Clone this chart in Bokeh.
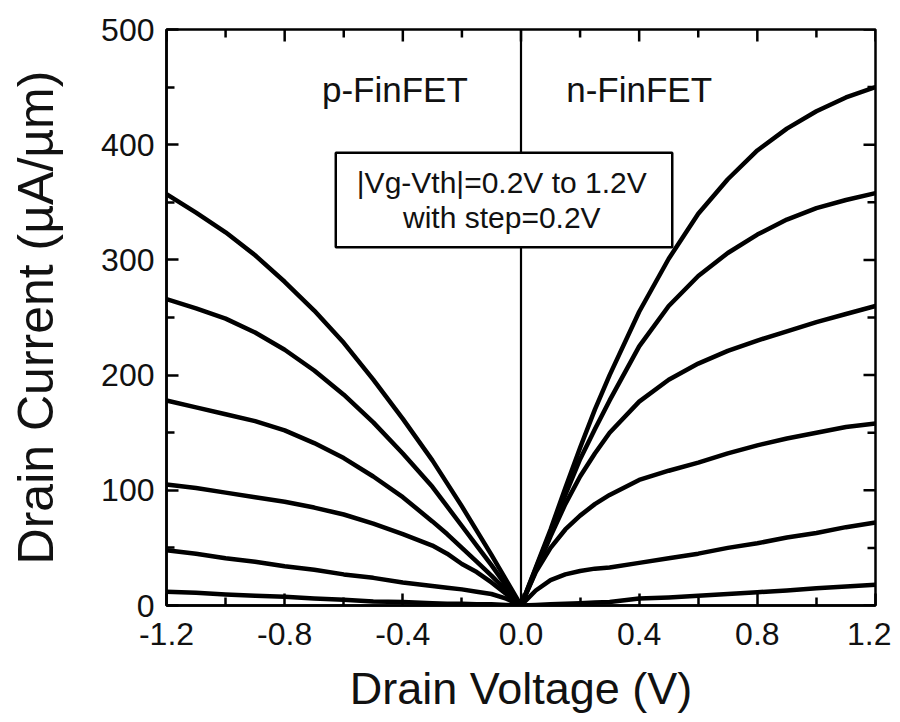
import math
from bokeh.plotting import figure
from bokeh.models import (Range1d, FixedTicker, NumeralTickFormatter,
                          Span, BoxAnnotation, Label)
from bokeh.embed import file_html
from bokeh.resources import INLINE

# Drain voltage samples (V)
vd_n = [0.0, 0.05, 0.1, 0.15, 0.2, 0.25, 0.3, 0.4, 0.5, 0.6, 0.7, 0.8, 0.9, 1.0, 1.1, 1.2]
vd_p = [0.0, -0.05, -0.1, -0.15, -0.2, -0.25, -0.3, -0.4, -0.5, -0.6, -0.7, -0.8, -0.9, -1.0, -1.1, -1.2]

# n-FinFET drain current (uA/um), |Vg-Vth| = 1.2, 1.0, 0.8, 0.6, 0.4, 0.2 V
n_12 = [0, 33, 66, 102, 137, 170, 200, 255, 301, 340, 370, 395, 414, 429, 441, 450]
n_10 = [0, 32, 64, 96, 127, 153, 178, 225, 260, 286, 306, 322, 335, 345, 352, 358]
n_08 = [0, 30, 60, 88, 112, 132, 150, 177, 196, 210, 221, 230, 238, 246, 253, 260]
n_06 = [0, 29, 50, 66, 78, 88, 96, 109, 117, 124, 132, 139, 145, 150, 155, 158]
n_04 = [0, 13, 22, 27, 30, 32, 33, 37, 41, 45, 50, 54, 59, 63, 68, 72]
n_02 = [0, 0.5, 1, 1.5, 2, 2.5, 3, 6, 7, 8.5, 10, 11.5, 13, 15, 16.5, 18]

# p-FinFET drain current magnitude (uA/um)
p_12 = [0, 22, 44, 65, 86, 106, 126, 162, 196, 228, 256, 281, 304, 324, 341, 357]
p_10 = [0, 17, 35, 52, 69, 86, 103, 132, 159, 183, 204, 222, 237, 249, 258, 266]
p_08 = [0, 13, 26, 38, 50, 62, 73, 94, 112, 128, 141, 152, 160, 166, 172, 178]
p_06 = [0, 10, 20, 29, 36, 45, 52, 62, 71, 79, 85, 90, 94, 98, 102, 105]
p_04 = [0, 6, 10, 12, 14, 15.5, 17, 20, 24, 27, 31, 34, 38, 41, 45, 48]
p_02 = [0, 0.5, 1, 1, 1.5, 1.5, 2, 3, 3.5, 5, 6, 7.5, 8.5, 9.5, 11, 12]

x_ticks = [-1.2, -0.8, -0.4, 0.0, 0.4, 0.8, 1.2]
x_minor = [-1.0, -0.6, -0.2, 0.2, 0.6, 1.0]
y_ticks = [0, 100, 200, 300, 400, 500]
y_minor = [50, 150, 250, 350, 450]

X_MIN, X_MAX = -1.2, 1.2
Y_MIN, Y_MAX = 0, 500

FONT = "Liberation Sans"
TXT = "#111111"

p = figure(width=891, height=718, output_backend="svg", toolbar_location=None,
           x_range=Range1d(X_MIN, X_MAX), y_range=Range1d(Y_MIN, Y_MAX),
           min_border_left=166, min_border_right=16, min_border_top=29,
           min_border_bottom=113, background_fill_color="white",
           border_fill_color="white")
p.xgrid.visible = False
p.ygrid.visible = False
p.outline_line_color = "black"
p.outline_line_width = 2.5

for ax in [p.xaxis[0], p.yaxis[0]]:
    ax.axis_line_width = 2.5
    ax.axis_line_color = "black"
    ax.major_tick_in = 12
    ax.major_tick_out = 0
    ax.minor_tick_in = 8
    ax.minor_tick_out = 0
    ax.major_tick_line_width = 2.5
    ax.minor_tick_line_width = 2.5
    ax.major_tick_line_color = "black"
    ax.minor_tick_line_color = "black"
    ax.major_label_text_font = FONT
    ax.major_label_text_font_size = "32px"
    ax.major_label_text_color = TXT
    ax.axis_label_text_font = FONT
    ax.axis_label_text_font_style = "normal"
    ax.axis_label_text_color = TXT

p.xaxis.ticker = FixedTicker(ticks=x_ticks, minor_ticks=x_minor)
p.xaxis.formatter = NumeralTickFormatter(format="0.0")
p.xaxis.axis_label = "Drain Voltage (V)"
p.xaxis.axis_label_text_font_size = "45px"
p.yaxis.ticker = FixedTicker(ticks=y_ticks, minor_ticks=y_minor)
p.yaxis.axis_label = "Drain Current (\u00b5A/\u00b5m)"
p.yaxis.axis_label_text_font_size = "50px"
p.xaxis.major_label_standoff = 17
p.xaxis.axis_label_standoff = 15
p.yaxis.major_label_standoff = 12
p.yaxis.axis_label_standoff = 34

# inward ticks on the top and right frame edges (dash markers clipped by the frame)
p.scatter(x=x_ticks, y=[Y_MAX] * len(x_ticks), marker="dash", size=24,
          angle=math.pi / 2, line_color="black", line_width=2.5)
p.scatter(x=x_minor, y=[Y_MAX] * len(x_minor), marker="dash", size=16,
          angle=math.pi / 2, line_color="black", line_width=2.5)
p.scatter(x=[X_MAX] * len(y_ticks), y=y_ticks, marker="dash", size=24,
          line_color="black", line_width=2.5)
p.scatter(x=[X_MAX] * len(y_minor), y=y_minor, marker="dash", size=16,
          line_color="black", line_width=2.5)

# zero-voltage divider
p.add_layout(Span(location=0, dimension="height", line_color="black",
                  line_width=2.2, level="underlay"))

for cur in [n_12, n_10, n_08, n_06, n_04, n_02]:
    p.line(vd_n, cur, line_color="black", line_width=4.5, line_join="round")
for cur in [p_12, p_10, p_08, p_06, p_04, p_02]:
    p.line(vd_p, cur, line_color="black", line_width=4.5, line_join="round")

# annotation box
p.add_layout(BoxAnnotation(left=-0.627, right=0.512, bottom=311, top=393,
                           fill_color="white", fill_alpha=1.0,
                           line_color="black", line_width=2.5, line_alpha=1.0))

def add_label(x, y, txt, size):
    p.add_layout(Label(x=x, y=y, text=txt, text_font=FONT, text_font_size=size,
                       text_color=TXT, text_align="center",
                       text_baseline="middle", level="overlay"))

add_label(-0.427, 448, "p-FinFET", "35px")
add_label(0.40, 448, "n-FinFET", "35px")
add_label(-0.065, 367, "|Vg-Vth|=0.2V to 1.2V", "30px")
add_label(-0.065, 337, "with step=0.2V", "30px")

open("out.html", "w").write(file_html(p, INLINE))
